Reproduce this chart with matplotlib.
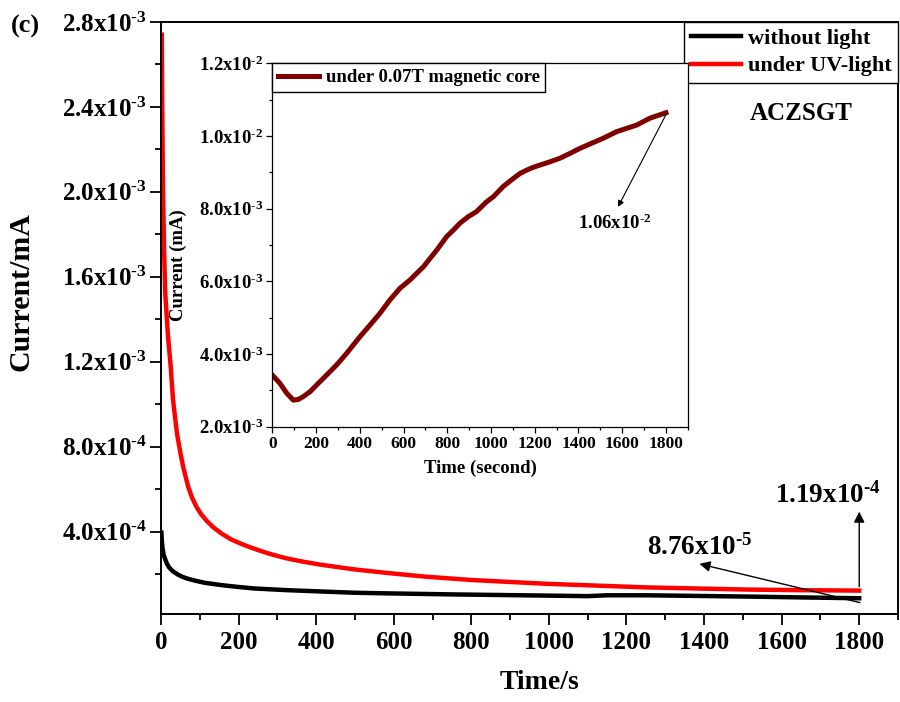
import matplotlib
matplotlib.use("Agg")
import matplotlib.pyplot as plt
from matplotlib.ticker import MultipleLocator, FixedLocator, FixedFormatter

plt.rcParams['font.family'] = ['Liberation Serif', 'DejaVu Serif']
plt.rcParams['font.weight'] = 'bold'
plt.rcParams['mathtext.fontset'] = 'custom'
plt.rcParams['mathtext.rm'] = 'Liberation Serif:bold'
plt.rcParams['mathtext.bf'] = 'Liberation Serif:bold'
plt.rcParams['mathtext.it'] = 'Liberation Serif:bold'
plt.rcParams['mathtext.default'] = 'bf'

# ---------------- data ----------------
t_uv = [2, 3, 5, 8, 11, 18, 25, 31, 41, 50, 57, 64, 70, 80, 91, 103, 117, 135,
        155, 180, 207, 230, 258, 290, 326, 370, 412, 498, 584, 680, 800, 995,
        1253, 1510, 1650, 1800]
i_uv = [2.74e-3, 2.45e-3, 2.03e-3, 1.72e-3, 1.52e-3, 1.32e-3, 1.177e-3,
        1.02e-3, 8.64e-4, 7.7e-4, 7.06e-4, 6.55e-4, 6.12e-4, 5.6e-4, 5.18e-4,
        4.83e-4, 4.52e-4, 4.2e-4, 3.92e-4, 3.64e-4, 3.42e-4, 3.26e-4, 3.08e-4,
        2.9e-4, 2.73e-4, 2.57e-4, 2.44e-4, 2.22e-4, 2.05e-4, 1.88e-4, 1.72e-4,
        1.54e-4, 1.37e-4, 1.27e-4, 1.24e-4, 1.22e-4]

t_dark = [1, 2, 4, 7, 10, 15, 21, 30, 43, 55, 69, 90, 112, 155, 200, 241,
          326, 412, 498, 584, 756, 995, 1100, 1150, 1253, 1510, 1650, 1800]
i_dark = [3.95e-4, 3.60e-4, 3.20e-4, 2.90e-4, 2.74e-4, 2.50e-4, 2.31e-4,
          2.14e-4, 1.98e-4, 1.87e-4, 1.78e-4, 1.68e-4, 1.59e-4, 1.48e-4,
          1.39e-4, 1.32e-4, 1.24e-4, 1.18e-4, 1.12e-4, 1.09e-4, 1.04e-4,
          9.85e-5, 9.6e-5, 1.0e-4, 1.0e-4, 9.4e-5, 9.0e-5, 8.6e-5]

t_mag = [0, 35, 66, 96, 119, 142, 172, 203, 248, 294, 340, 401, 447, 492, 538,
         584, 630, 660, 691, 721, 752, 797, 828, 858, 896, 934, 980, 1011,
         1056, 1102, 1133, 1163, 1194, 1224, 1270, 1316, 1361, 1407, 1468,
         1514, 1575, 1620, 1666, 1727, 1800]
i_mag = [3.42e-3, 3.19e-3, 2.92e-3, 2.73e-3, 2.75e-3, 2.83e-3, 2.96e-3,
         3.15e-3, 3.42e-3, 3.70e-3, 4.02e-3, 4.48e-3, 4.80e-3, 5.12e-3,
         5.49e-3, 5.81e-3, 6.04e-3, 6.22e-3, 6.40e-3, 6.63e-3, 6.86e-3,
         7.23e-3, 7.41e-3, 7.60e-3, 7.78e-3, 7.92e-3, 8.19e-3, 8.33e-3,
         8.61e-3, 8.83e-3, 8.97e-3, 9.06e-3, 9.14e-3, 9.20e-3, 9.29e-3,
         9.39e-3, 9.52e-3, 9.66e-3, 9.82e-3, 9.94e-3, 1.012e-2, 1.021e-2,
         1.030e-2, 1.049e-2, 1.064e-2]

main_yticks = [4e-4, 8e-4, 1.2e-3, 1.6e-3, 2.0e-3, 2.4e-3, 2.8e-3]
main_ylabels = [r'4.0x10$^{\text{-}4}$', r'8.0x10$^{\text{-}4}$',
                r'1.2x10$^{\text{-}3}$', r'1.6x10$^{\text{-}3}$',
                r'2.0x10$^{\text{-}3}$', r'2.4x10$^{\text{-}3}$',
                r'2.8x10$^{\text{-}3}$']
inset_yticks = [2e-3, 4e-3, 6e-3, 8e-3, 1.0e-2, 1.2e-2]
inset_ylabels = [r'2.0x10$^{\text{-}3}$', r'4.0x10$^{\text{-}3}$',
                 r'6.0x10$^{\text{-}3}$', r'8.0x10$^{\text{-}3}$',
                 r'1.0x10$^{\text{-}2}$', r'1.2x10$^{\text{-}2}$']

# ---------------- figure ----------------
fig = plt.figure(figsize=(9, 7.02), dpi=100)
ax = fig.add_axes([0.1789, 0.1254, 0.8189, 0.8433])

ax.plot(t_dark, i_dark, color='black', lw=3.2, label='without light', solid_joinstyle='round')
ax.plot(t_uv, i_uv, color='#ff0000', lw=3.2, label='under UV-light', solid_joinstyle='round')

ax.set_xlim(0, 1900)
ax.set_ylim(1.2e-5, 2.8e-3)
ax.set_xticks(range(0, 1801, 200))
ax.xaxis.set_minor_locator(MultipleLocator(100))
ax.yaxis.set_major_locator(FixedLocator(main_yticks))
ax.yaxis.set_major_formatter(FixedFormatter(main_ylabels))
ax.yaxis.set_minor_locator(MultipleLocator(2e-4))
ax.tick_params(which='both', direction='out', top=False, right=False, width=1.3)
ax.tick_params(which='major', length=8, labelsize=18)
ax.tick_params(which='minor', length=4.3)
ax.tick_params(axis='y', which='major', pad=2)
ax.tick_params(axis='x', which='major', pad=4)
for s in ax.spines.values():
    s.set_linewidth(1.4)

ax.set_xlabel('Time/s', fontsize=20, fontweight='bold')
ax.set_ylabel('Current/mA', fontsize=21.5, fontweight='bold')
ax.xaxis.set_label_coords(0.514, -0.095)
ax.yaxis.set_label_coords(-0.172, 0.544)

leg = ax.legend(loc='upper right', bbox_to_anchor=(1.0, 1.0), borderaxespad=0,
                fontsize=16, handlelength=2.25, handletextpad=0.3,
                labelspacing=0.3, borderpad=0.3, fancybox=False,
                edgecolor='black', framealpha=1)
leg.get_frame().set_linewidth(1.0)
for ln in leg.get_lines():
    ln.set_linewidth(3.2)

ax.text(1650, 2.368e-3, 'ACZSGT', fontsize=18, fontweight='bold', ha='center', va='center')

ax.annotate('', xy=(1800, 4.94e-4), xytext=(1800, 1.41e-4),
            arrowprops=dict(arrowstyle='-|>', color='black', lw=1.0,
                            mutation_scale=16, shrinkA=0, shrinkB=0))
ax.text(1583, 5.385e-4, r'1.19x10$^{\text{-}4}$', fontsize=19.5, ha='left', va='baseline')
ax.annotate('', xy=(1388, 2.48e-4), xytext=(1802, 6.55e-5),
            arrowprops=dict(arrowstyle='-|>', color='black', lw=1.0,
                            mutation_scale=16, shrinkA=0, shrinkB=0))
ax.text(1253, 2.935e-4, r'8.76x10$^{\text{-}5}$', fontsize=19.5, ha='left', va='baseline')

fig.text(0.012, 0.962, '(c)', fontsize=19, fontweight='bold', ha='left', va='center')

# ---------------- inset ----------------
ins = fig.add_axes([0.3026, 0.3922, 0.4616, 0.5176])
ins.set_facecolor('white')
ins.plot(t_mag, i_mag, color='#800000', lw=3.6, label='under 0.07T magnetic core',
         solid_joinstyle='round')
ins.set_xlim(0, 1900)
ins.set_ylim(2e-3, 1.2e-2)
ins.set_xticks(range(0, 1801, 200))
ins.xaxis.set_minor_locator(MultipleLocator(100))
ins.yaxis.set_major_locator(FixedLocator(inset_yticks))
ins.yaxis.set_major_formatter(FixedFormatter(inset_ylabels))
ins.yaxis.set_minor_locator(MultipleLocator(1e-3))
ins.tick_params(which='both', direction='out', top=False, right=False, width=0.9)
ins.tick_params(which='major', length=4.5, labelsize=12.5, pad=2)
ins.tick_params(axis='y', which='major', labelsize=13.5)
ins.tick_params(which='minor', length=2.5)
for s in ins.spines.values():
    s.set_linewidth(0.9)
ins.set_xlabel('Time (second)', fontsize=13.5, fontweight='bold')
ins.set_ylabel('Current (mA)', fontsize=13.5, fontweight='bold')
ins.xaxis.set_label_coords(0.5, -0.09)
ins.yaxis.set_label_coords(-0.205, 0.445)

leg2 = ins.legend(loc='upper left', bbox_to_anchor=(0.0, 1.0), borderaxespad=0,
                  fontsize=13.5, handlelength=2.2, handletextpad=0.35,
                  borderpad=0.3, fancybox=False, edgecolor='black', framealpha=1)
leg2.get_frame().set_linewidth(1.0)
for ln in leg2.get_lines():
    ln.set_linewidth(3.6)

ins.annotate('', xy=(1581, 8.05e-3), xytext=(1804, 1.063e-2),
             arrowprops=dict(arrowstyle='-|>', color='black', lw=0.8,
                             mutation_scale=9, shrinkA=0, shrinkB=0))
ins.text(1400, 7.44e-3, r'1.06x10$^{\text{-}2}$', fontsize=13.5, ha='left', va='baseline')

fig.savefig('out.png', dpi=100)
